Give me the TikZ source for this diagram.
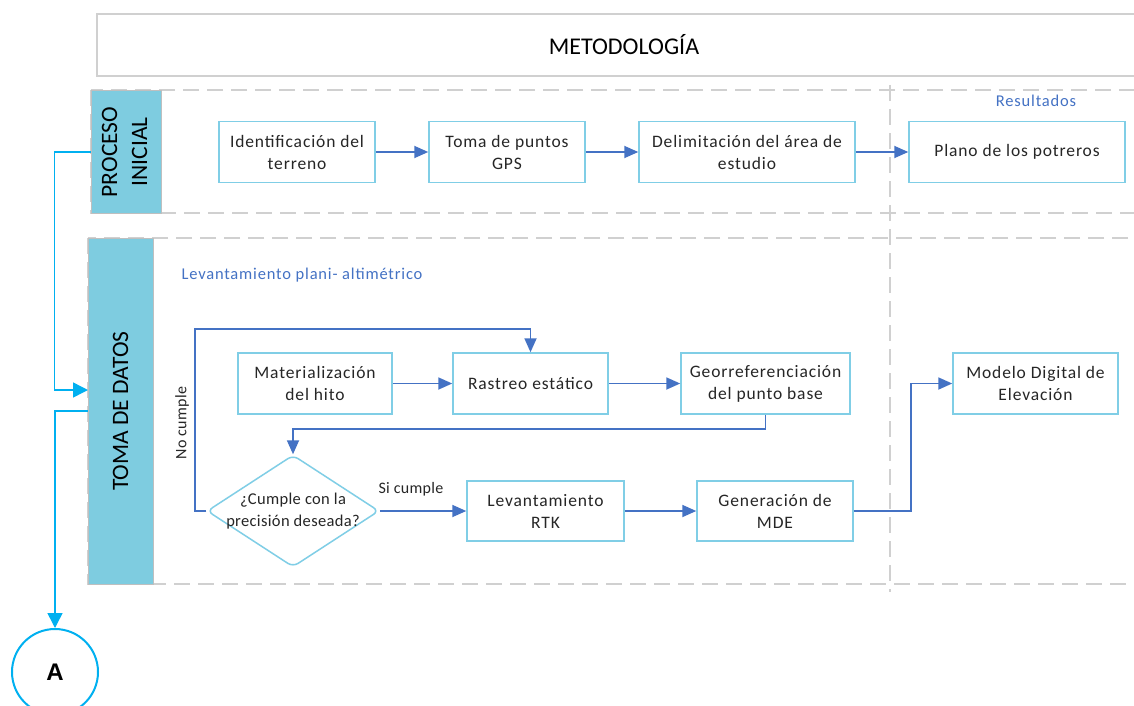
\documentclass[tikz,border=0pt]{standalone}
\usepackage{fontspec}
\setmainfont{Carlito}
\newfontfamily\boxfont[LetterSpace=5]{Carlito}
\newfontfamily\tagfont[LetterSpace=2]{Carlito}
\newfontfamily\arialfont{Liberation Sans}
\usetikzlibrary{arrows.meta,shapes.geometric}
\definecolor{stripblue}{RGB}{126,204,224}
\definecolor{boxblue}{RGB}{128,206,230}
\definecolor{flowblue}{RGB}{68,114,196}
\definecolor{linkcyan}{RGB}{0,176,240}
\definecolor{framegray}{RGB}{208,208,208}

\begin{document}
\begin{tikzpicture}[x=1pt,y=-1pt,
  box/.style={draw=boxblue,line width=1.5pt,fill=white,minimum height=61pt,inner sep=2pt,align=center,
    font=\boxfont\fontsize{17.5}{22}\selectfont,text=black!85},
  strip/.style={draw=black!25,line width=1pt,fill=stripblue,inner sep=0pt,font=\fontsize{23.5}{30}\selectfont},
  frame/.style={draw=framegray,line width=2pt,dash pattern=on 16pt off 8pt},
  flow/.style={draw=flowblue,line width=1.8pt,-{Triangle[length=14pt,width=12pt]}},
  link/.style={draw=linkcyan,line width=1.5pt,-{Triangle[length=15pt,width=15pt]}},
  note/.style={font=\boxfont\fontsize{16.5}{20}\selectfont,text=flowblue},
  tag/.style={font=\tagfont\fontsize{16}{18}\selectfont,text=black!85,inner sep=1pt}]
\useasboundingbox[fill=white] (0,0) rectangle (1134,706);

\draw[draw=framegray,line width=1.5pt] (97,14) rectangle (1150,76);
\node[font=\fontsize{24}{28}\selectfont] (title) at (624,45) {METODOLOGÍA};

\draw[frame] (91,90) rectangle (1150,213);
\draw[frame] (88,238) rectangle (1150,584);
\draw[frame] (890,85) -- (890,592);

\node[strip,minimum width=70pt,minimum height=122pt] (proc) at (126,152)
  {\rotatebox{90}{\begin{tabular}{@{}c@{}}PROCESO\\INICIAL\end{tabular}}};
\node[strip,minimum width=65pt,minimum height=346pt] (toma) at (120.5,411)
  {\rotatebox{90}{TOMA DE DATOS}};
\coordinate (tin) at (88,390);

\node[note] (result) at (1036,101) {Resultados};
\node[note,anchor=west] (levant) at (178,275) {Levantamiento plani- altimétrico};

\node[box,minimum width=156pt] (ident) at (297,152) {Identificación del\\terreno};
\node[box,minimum width=156pt] (gps) at (507,152) {Toma de puntos\\GPS};
\node[box,minimum width=216pt] (delim) at (747,152) {Delimitación del área de\\estudio};
\node[box,minimum width=216pt] (plano) at (1017,152) {Plano de los potreros};

\node[box,minimum width=154pt] (hito) at (315,383.5) {Materialización\\del hito};
\node[box,minimum width=155pt] (rastreo) at (530.5,383.5) {Rastreo estático};
\node[box,minimum width=169pt] (georef) at (765.5,383.5) {Georreferenciación\\del punto base};
\node[box,minimum width=165pt] (dem) at (1035.5,383.5) {Modelo Digital de\\Elevación};

\node[diamond,draw=boxblue,line width=1.5pt,rounded corners=6pt,inner sep=0pt,
  minimum width=172pt,minimum height=112pt] (check) at (293,511) {};
\node[box,draw=none,fill=none,minimum height=0pt,font=\tagfont\fontsize{16.5}{22}\selectfont] (checktxt) at (check) {¿Cumple con la\\precisión deseada?};
\node[box,minimum width=157pt,minimum height=60pt] (rtk) at (545.5,511) {Levantamiento\\RTK};
\node[box,minimum width=156pt,minimum height=60pt] (mde) at (775,511) {Generación de\\MDE};
\coordinate (loop) at (195,329);

\node[tag,rotate=90] (nocumple) at (182,423) {No cumple};
\node[tag] (sicumple) at (411,489) {Si cumple};

\draw[flow] (ident) -- (gps);
\draw[flow] (gps) -- (delim);
\draw[flow] (delim) -- (plano);
\draw[flow] (hito) -- (rastreo);
\draw[flow] (rastreo) -- (georef);
\draw[flow] (georef.south) -- ++(0,14) -| (check.north);
\draw[flow] (check.west) -| (loop) -| (rastreo.north);
\draw[flow] (check.east) -- (rtk.west);
\draw[flow] (rtk) -- (mde);
\draw[flow] (mde.east) -- ++(57,0) |- (dem.west);

\node[circle,draw=linkcyan,line width=2pt,minimum size=86pt,inner sep=0pt,
  font=\arialfont\bfseries\fontsize{24}{28}\selectfont] (circA) at (55,672) {A};
\draw[link] (proc.west) -- ++(-36,0) |- (tin);
\draw[link] (toma.west) -| (circA.north);
\end{tikzpicture}
\end{document}
